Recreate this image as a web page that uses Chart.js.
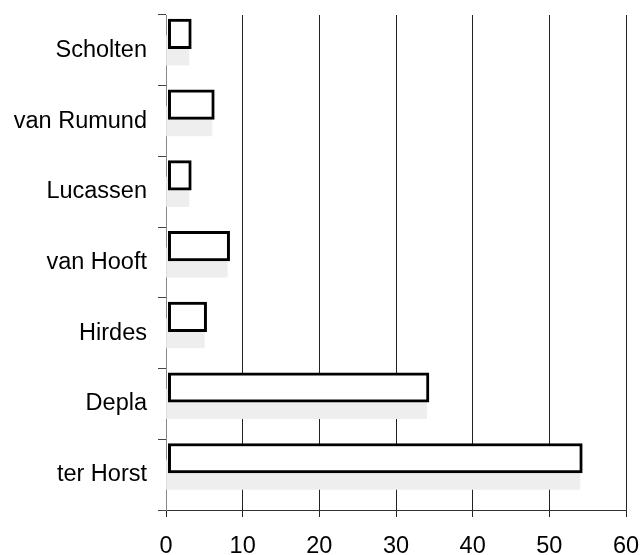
<!DOCTYPE html>
<html>
<head>
<meta charset="utf-8">
<script src="https://cdn.jsdelivr.net/npm/chart.js@4/dist/chart.umd.min.js"></script>
<style>
  html, body { margin: 0; padding: 0; background: #fff; }
  #wrap { width: 641px; height: 555px; }
</style>
</head>
<body>
<div id="wrap"><canvas id="c" width="641" height="555"></canvas></div>
<script>
const categories = ["Scholten", "van Rumund", "Lucassen", "van Hooft", "Hirdes", "Depla", "ter Horst"];
const values = [3, 6, 3, 8, 5, 34, 54];
const xTicks = [0, 10, 20, 30, 40, 50, 60];

const FONT = { family: "'Liberation Sans', Arial, Helvetica, sans-serif", size: 23.5 };

new Chart(document.getElementById('c'), {
  type: 'bar',
  data: {
    labels: categories,
    datasets: [
      {
        label: 'bar',
        data: values.map((v, i) => ({ x: v, y: i })),
        xAxisID: 'x2',
        yAxisID: 'y2',
        backgroundColor: '#ffffff',
        borderColor: '#000000',
        borderWidth: 3,
        borderSkipped: false,
        barThickness: 29.5,
        grouped: false,
        order: 0
      },
      {
        label: 'shadow',
        data: values,
        xAxisID: 'x',
        yAxisID: 'y',
        backgroundColor: '#eeeeee',
        borderWidth: 0,
        barThickness: 29.5,
        grouped: false,
        order: 1
      }
    ]
  },
  options: {
    indexAxis: 'y',
    responsive: false,
    animation: false,
    devicePixelRatio: 1,
    layout: { padding: { top: 15, right: 15, left: 0, bottom: 0 } },
    plugins: { legend: { display: false }, tooltip: { enabled: false } },
    scales: {
      x: {
        type: 'linear',
        position: 'bottom',
        min: xTicks[0],
        max: xTicks[xTicks.length - 1],
        afterBuildTicks: s => { s.ticks = xTicks.map(v => ({ value: v })); },
        afterFit: s => { s.height = 45; s.paddingLeft = 0; s.paddingRight = 0; },
        ticks: { color: '#000', font: FONT, padding: 15, maxRotation: 0 },
        grid: { color: '#222', lineWidth: 1, drawTicks: true, tickLength: 7, tickColor: '#222' },
        border: { display: true, color: '#333', width: 1 }
      },
      y: {
        type: 'category',
        position: 'left',
        offset: true,
        afterFit: s => { s.width = 166; s.paddingTop = 0; s.paddingBottom = 0; },
        ticks: { color: '#000', font: FONT, padding: 11 },
        grid: { offset: true, drawOnChartArea: false, drawTicks: true, tickLength: 8, tickColor: '#444' },
        border: { display: true, color: '#888', width: 1 }
      },
      x2: {
        type: 'linear',
        display: false,
        offset: false,
        min: -0.3,
        max: 59.7
      },
      y2: {
        type: 'linear',
        display: false,
        offset: false,
        reverse: true,
        min: -0.268,
        max: 6.732
      }
    }
  }
});
</script>
</body>
</html>
